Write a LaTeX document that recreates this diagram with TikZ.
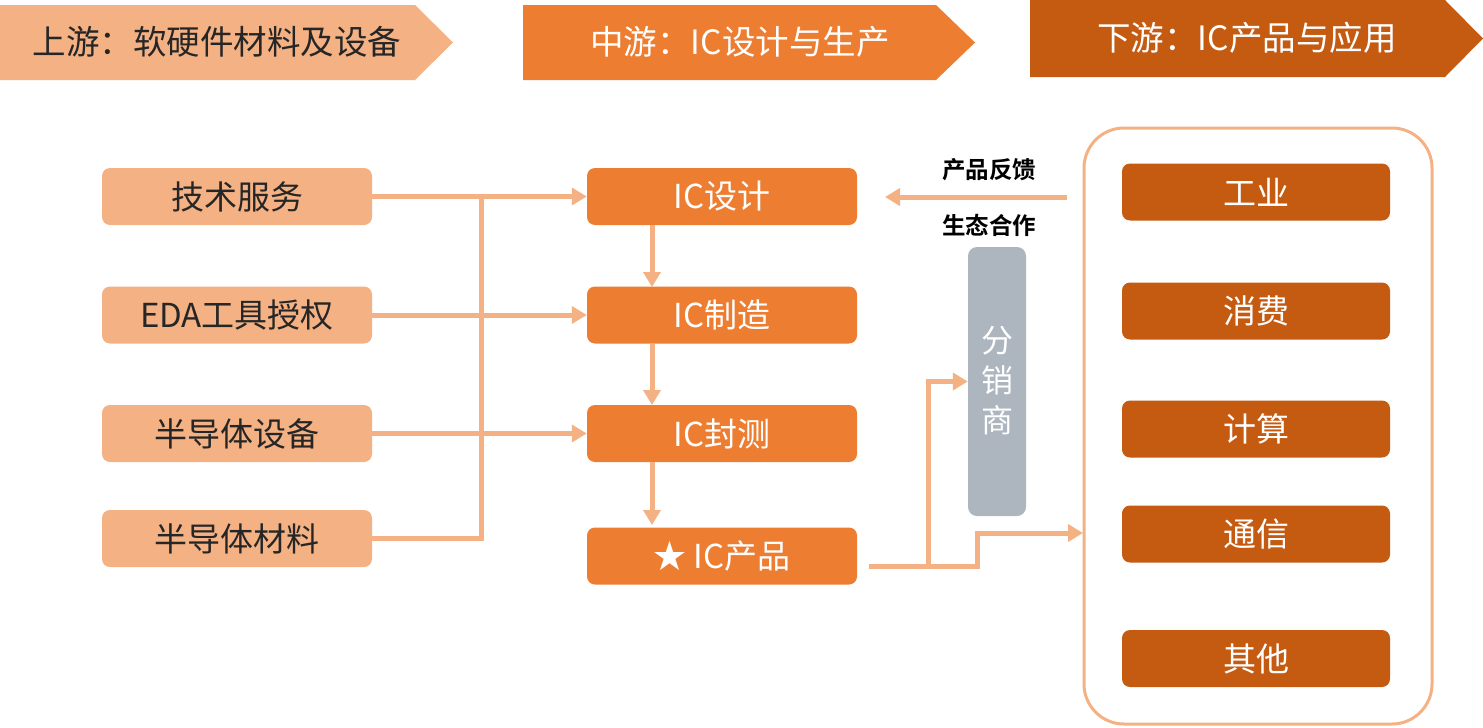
\documentclass[tikz,border=0pt]{standalone}
\usepackage{fontspec}
\setmainfont{Noto Sans CJK SC}
\newfontfamily\cjkbold{Noto Sans CJK SC Bold}
\usetikzlibrary{arrows.meta}
\definecolor{lite}{HTML}{F4B183}
\definecolor{mid}{HTML}{ED7D31}
\definecolor{dark}{HTML}{C55A11}
\definecolor{grayb}{HTML}{ADB5BF}
\definecolor{txt}{HTML}{262626}
\tikzset{
  upbox/.style={fill=lite, rounded corners=8pt, minimum width=270pt, minimum height=57pt, inner sep=0pt, text=txt, font=\fontsize{33}{33}\selectfont},
  midbox/.style={fill=mid, rounded corners=8pt, minimum width=270pt, minimum height=57pt, inner sep=0pt, text=white, font=\fontsize{33}{33}\selectfont},
  dnbox/.style={fill=dark, rounded corners=8pt, minimum width=268pt, minimum height=57pt, inner sep=0pt, text=white, font=\fontsize{33}{33}\selectfont},
  conn/.style={draw=lite, line width=5pt},
  arr/.style={conn, -{Triangle[length=15pt,width=17pt]}},
  lbl/.style={font=\cjkbold\fontsize{23.5}{23.5}\selectfont, text=black},
  hdrtext/.style={font=\fontsize{33.5}{33.5}\selectfont},
}
\begin{document}
\begin{tikzpicture}[x=1pt,y=-1pt]
\useasboundingbox (0,0) rectangle (1483,728);
% headers
\fill[lite] (0,5) -- (415,5) -- (453,42.5) -- (415,80) -- (0,80) -- cycle;
\node[text=txt, hdrtext] (h1) at (217,42) {上游：软硬件材料及设备};
\fill[mid] (523,5) -- (936,5) -- (975,42.5) -- (936,80) -- (523,80) -- cycle;
\node[text=white, hdrtext] (h2) at (740,42) {中游：IC设计与生产};
\fill[dark] (1030,0) -- (1445,0) -- (1483,38.5) -- (1445,77) -- (1030,77) -- cycle;
\node[text=white, hdrtext] (h3) at (1247,38) {下游：IC产品与应用};
% upstream boxes
\node[upbox] (u1) at (237,196.5) {技术服务};
\node[upbox] (u2) at (237,315) {EDA工具授权};
\node[upbox] (u3) at (237,433.5) {半导体设备};
\node[upbox] (u4) at (237,538.5) {半导体材料};
% midstream boxes
\node[midbox] (m1) at (722,196.5) {IC设计};
\node[midbox] (m2) at (722,315) {IC制造};
\node[midbox] (m3) at (722,433.5) {IC封测};
\node[midbox] (m4) at (722,556) {★ IC产品};
% distributor
\node[fill=grayb, rounded corners=9pt, minimum width=58pt, minimum height=269pt, inner sep=0pt] (dist) at (997,381.5) {};
\node[text=white, font=\fontsize{32}{32}\selectfont, align=center] (distt) at (997,381) {分\\[8pt]销\\[8pt]商};
% downstream frame
\draw[lite, line width=3pt, rounded corners=40pt] (1084,128) rectangle (1432,724);
\coordinate (fr) at (1083,533);
\node[dnbox] (d1) at (1256,192) {工业};
\node[dnbox] (d2) at (1256,311) {消费};
\node[dnbox] (d3) at (1256,429) {计算};
\node[dnbox] (d4) at (1256,534) {通信};
\node[dnbox] (d5) at (1256,658.5) {其他};
% upstream connectors
\draw[arr] (u1.east) -- (m1.west);
\draw[arr] (u2.east) -- (m2.west);
\draw[arr] (u3.east) -- (m3.west);
\draw[conn] (u4.east) -- (481,538.5) -- (481,196.5);
% midstream vertical
\draw[arr] (652,225) -- (652,287);
\draw[arr] (652,343.5) -- (652,405);
\draw[arr] (652,462) -- (652,525);
% product outputs
\coordinate (p0) at (869,566);
\draw[arr, line join=miter] (p0) -- (977,566) -- (977,533) -- (fr);
\draw[arr, line join=miter] (928,566) -- (928,381.5) -- (dist.west |- 0,381.5);
% feedback
\draw[arr] (1067,197) -- (885,197);
\node[lbl] (fb) at (989,170) {产品反馈};
\node[lbl] (eco) at (989,225) {生态合作};
\end{tikzpicture}
\end{document}
